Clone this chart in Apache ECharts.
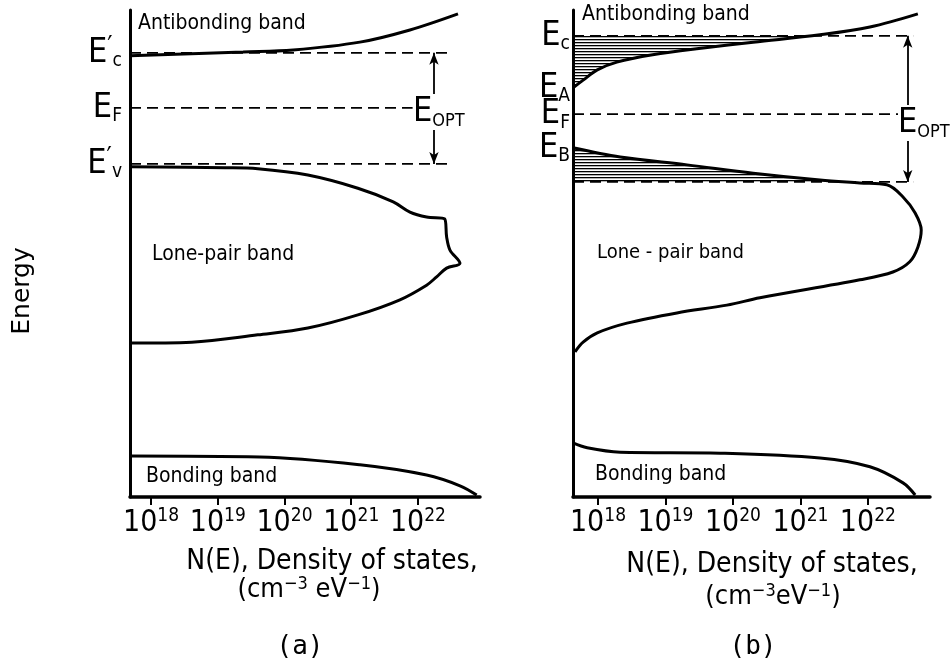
<!DOCTYPE html>
<html>
<head>
<meta charset="utf-8">
<script src="https://cdn.jsdelivr.net/npm/echarts@6/dist/echarts.min.js"></script>
<style>
html,body{margin:0;padding:0;background:#fff;}
#chart{width:951px;height:667px;}
</style>
</head>
<body>
<div id="chart"></div>
<script>
// x = log10 N(E), y = energy (arbitrary units 0-100)
const decades = [18, 19, 20, 21, 22];

// panel (a)
const antibondingA = [[17.685,90.6],[19.38,91.4],[20.13,91.8],[21.13,93.4],[21.88,95.9],[22.60,99.2]];
const lonePairA = [[17.685,67.8],[19.11,67.6],[19.60,67.4],[20.35,66.1],[21.10,63.4],[21.63,60.6],
  [21.88,58.5],[22.13,57.5],[22.40,57.1],[22.43,53.4],[22.48,50.7],[22.63,48.0],[22.43,47.0],[22.28,45.2],
  [22.13,43.5],[21.73,40.5],[21.10,37.4],[20.35,34.7],[19.60,33.3],[18.61,31.8],[17.685,31.6]];
const bondingA = [[17.685,8.4],[19.63,8.2],[21.13,6.6],[22.13,4.5],[22.63,2.3],[22.88,0.4]];
const levelsA = [91.2, 79.9, 68.4];
const levelEndsA = [22.52, 21.92, 22.52];
const levelNamesA = ['{e|E}{pr|′}{sb|c}', '{e|E}{sb|F}', '{e|E}{pr|′}{sb|v}'];
const arrowXA = 22.24;

// panel (b)
const antibondingB = [[17.63,84.0],[17.78,85.6],[17.99,87.7],[18.28,89.3],[18.81,90.8],[19.56,92.2],
  [20.30,93.4],[21.29,94.9],[22.03,96.5],[22.74,99.2]];
const lonePairB = [[17.63,71.7],[18.33,69.8],[19.32,68.2],[20.30,66.5],[21.29,65.1],[21.88,64.5],[22.28,64.1],
  [22.52,61.6],[22.70,58.3],[22.79,54.8],[22.74,51.3],[22.62,48.3],[22.37,46.2],[21.88,44.6],
  [20.40,40.9],[19.91,39.4],[19.17,37.8],[18.43,35.7],[17.99,33.7],[17.78,31.8],[17.66,29.8]];
const bondingB = [[17.63,11.1],[17.84,10.1],[18.33,9.2],[19.81,9.0],[21.29,8.0],[22.03,6.2],[22.52,2.9],[22.70,0.4]];
const levelsB = [94.7, 84.0, 78.6, 71.7, 64.7];
const levelNamesB = ['{e|E}{sb|c}', '{e|E}{sb|A}', '{e|E}{sb|F}', '{e|E}{sb|B}', '{e|E}{sb|v}'];
const dashedB = [94.7, 78.6, 64.7];
const dashedEndsB = [22.67, 22.45, 22.67];
const arrowXB = 22.59;

const xMinA = 17.685, xMaxA = 22.93, xMinB = 17.63, xMaxB = 22.92;
const FN = "'Liberation Sans Narrow', 'DejaVu Sans Condensed', 'Liberation Sans', sans-serif";

const chart = echarts.init(document.getElementById('chart'));

const pat = document.createElement('canvas');
pat.width = 6; pat.height = 3;
const pctx = pat.getContext('2d');
pctx.fillStyle = '#000';
pctx.fillRect(0, 0, 6, 1.3);
const hatchPattern = { image: pat, repeat: 'repeat' };

// curve points from the axis until the curve crosses the level, closed along the level
function tailPolygon(curve, level, x0, rising) {
  const pts = [curve[0]];
  for (let i = 1; i < curve.length; i++) {
    const a = curve[i - 1], b = curve[i];
    if (rising ? b[1] > level : b[1] < level) {
      const t = (level - a[1]) / (b[1] - a[1]);
      pts.push([a[0] + t * (b[0] - a[0]), level]);
      break;
    }
    pts.push(b);
  }
  pts.push([x0, level]);
  return pts;
}

function nearest(arr, v) {
  let k = 0;
  arr.forEach((a, i) => { if (Math.abs(a - v) < Math.abs(arr[k] - v)) k = i; });
  return k;
}

const eRich = {
  e: { fontSize: 34, fontFamily: FN, color: '#000', lineHeight: 36 },
  pr: { fontSize: 26, fontFamily: FN, color: '#000', verticalAlign: 'top', lineHeight: 20 },
  sb: { fontSize: 19, fontFamily: FN, color: '#000', verticalAlign: 'bottom', lineHeight: 21 }
};
const tickRich = {
  b: { fontSize: 30, fontFamily: FN, color: '#000', lineHeight: 32 },
  s: { fontSize: 19, fontFamily: FN, color: '#000', verticalAlign: 'top', lineHeight: 17 }
};

function xAxisFor(i, min, max) {
  return {
    type: 'value', gridIndex: i, min: min, max: max,
    axisLine: { show: true, onZero: false, lineStyle: { color: '#000', width: 3.5 } },
    axisTick: { show: true, customValues: decades, length: 8, lineStyle: { color: '#000', width: 2 } },
    axisLabel: { customValues: decades, margin: 10, formatter: v => '{b|10}{s|' + v + '}', rich: tickRich },
    splitLine: { show: false }
  };
}
function yAxisFor(i, levels, names, margin) {
  return {
    type: 'value', gridIndex: i, min: 0, max: 100,
    axisLine: { show: true, onZero: false, lineStyle: { color: '#000', width: 3 } },
    axisTick: { show: false }, splitLine: { show: false },
    axisLabel: { customValues: levels, margin: margin, formatter: v => names[nearest(levels, v)], rich: eRich }
  };
}

function curve(data, i) {
  return { type: 'line', xAxisIndex: i, yAxisIndex: i, data: data, smooth: 0.35, symbol: 'none',
    lineStyle: { color: '#000', width: 3 }, z: 3, silent: true };
}
function dashed(x0, x1, e, i) {
  return { type: 'line', xAxisIndex: i, yAxisIndex: i, data: [[x0, e], [x1, e]], symbol: 'none',
    lineStyle: { color: '#000', width: 1.8, type: [11, 6] }, z: 2, silent: true };
}
function arrow(x, top, bottom, i) {
  return { type: 'line', xAxisIndex: i, yAxisIndex: i, data: [], silent: true,
    markLine: { silent: true, symbol: ['arrow', 'arrow'], symbolSize: [7, 12], label: { show: false },
      lineStyle: { color: '#000', width: 1.8, type: 'solid' },
      data: [[{ coord: [x, top] }, { coord: [x, bottom] }]] } };
}
function hatch(poly, i) {
  return { type: 'custom', xAxisIndex: i, yAxisIndex: i, data: [poly[0]], silent: true, z: 1,
    renderItem: function (params, api) {
      return { type: 'polygon', shape: { points: poly.map(p => api.coord(p)) },
        style: { fill: hatchPattern, stroke: null } };
    } };
}

const series = [
  curve(antibondingA, 0), curve(lonePairA, 0), curve(bondingA, 0),
  curve(antibondingB, 1), curve(lonePairB, 1), curve(bondingB, 1),
  hatch(tailPolygon(antibondingB, levelsB[0], xMinB, true), 1),
  hatch(tailPolygon(lonePairB, levelsB[4], xMinB, false), 1),
  arrow(arrowXA, levelsA[0], levelsA[2], 0),
  arrow(arrowXB, dashedB[0], dashedB[2], 1)
];
levelsA.forEach((e, k) => series.push(dashed(xMinA, levelEndsA[k], e, 0)));
dashedB.forEach((e, k) => series.push(dashed(xMinB, dashedEndsB[k], e, 1)));

function txt(x, y, text, size, extra) {
  return { type: 'text', x: x, y: y, z: 10,
    style: Object.assign({ text: text, fontSize: size, fontFamily: FN, fill: '#000',
      align: 'left', verticalAlign: 'middle' }, extra || {}) };
}
const supRich = { s: { fontSize: 18, fontFamily: FN, fill: '#000', verticalAlign: 'top', lineHeight: 16 },
  n: { fontSize: 27, fontFamily: FN, lineHeight: 30 } };
const optRich = { e: { fontSize: 34, fontFamily: FN, lineHeight: 36 },
  o: { fontSize: 18, fontFamily: FN, verticalAlign: 'bottom', lineHeight: 21 } };

const graphic = [
  txt(138, 24, 'Antibonding band', 21),
  txt(582, 15, 'Antibonding band', 21),
  txt(152, 255, 'Lone-pair band', 21),
  txt(597, 253, 'Lone - pair band', 20),
  txt(146, 477, 'Bonding band', 21),
  txt(595, 475, 'Bonding band', 21),
  txt(413, 112, '{e|E}{o|OPT}', 34, { rich: optRich, backgroundColor: '#fff' }),
  txt(898, 123, '{e|E}{o|OPT}', 34, { rich: optRich, backgroundColor: '#fff' }),
  txt(332, 562, 'N(E), Density of states,', 28, { align: 'center' }),
  txt(309, 590, '{n|(cm}{s|−3}{n| eV}{s|−1}{n|)}', 27, { align: 'center', rich: supRich }),
  txt(772, 565, 'N(E), Density of states,', 28, { align: 'center' }),
  txt(773, 597, '{n|(cm}{s|−3}{n|eV}{s|−1}{n|)}', 27, { align: 'center', rich: supRich }),
  { type: 'text', x: 300, y: 647, style: { text: '(a)', fontSize: 26, fontFamily: "'DejaVu Sans Mono', monospace",
    fill: '#000', align: 'center', verticalAlign: 'middle' } },
  { type: 'text', x: 753, y: 647, style: { text: '(b)', fontSize: 26, fontFamily: "'DejaVu Sans Mono', monospace",
    fill: '#000', align: 'center', verticalAlign: 'middle' } },
  { type: 'text', x: 22, y: 291, rotation: Math.PI / 2, style: { text: 'Energy', fontSize: 25,
    fontFamily: "'DejaVu Sans', sans-serif", fill: '#000', align: 'center', verticalAlign: 'middle' } }
];

chart.setOption({
  animation: false,
  backgroundColor: '#fff',
  grid: [
    { left: 130, right: 471, top: 10, bottom: 170 },
    { left: 573, right: 21, top: 10, bottom: 170 }
  ],
  xAxis: [xAxisFor(0, xMinA, xMaxA), xAxisFor(1, xMinB, xMaxB)],
  yAxis: [yAxisFor(0, levelsA, levelNamesA, 8), yAxisFor(1, levelsB, levelNamesB, 3)],
  series: series,
  graphic: graphic
});
window.addEventListener('resize', function () { chart.resize(); });
</script>
</body>
</html>
